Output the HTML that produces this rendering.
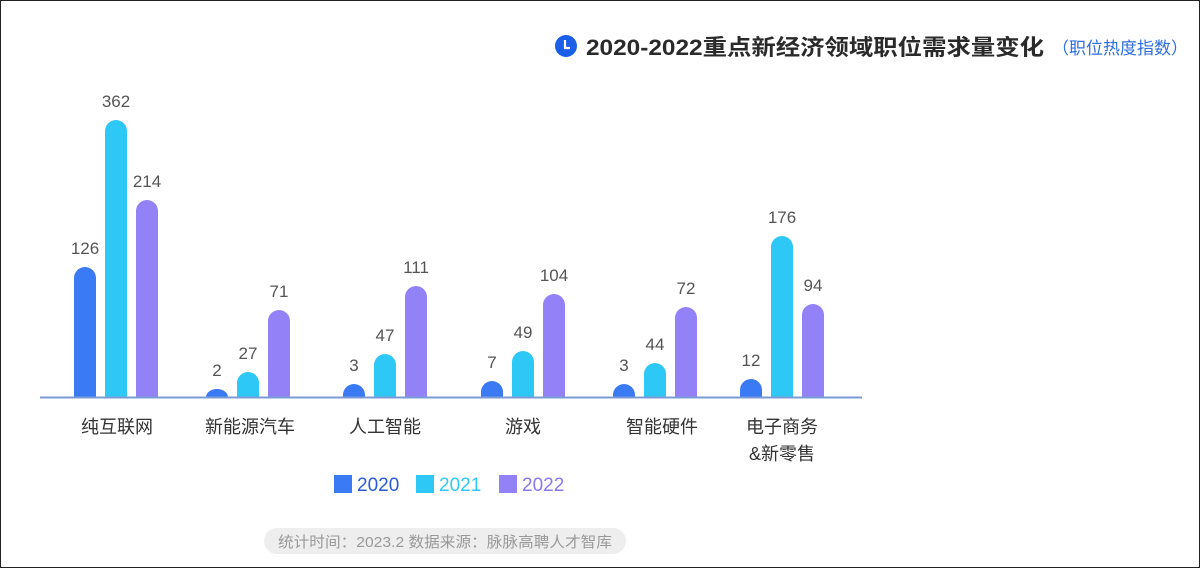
<!DOCTYPE html>
<html><head><meta charset="utf-8"><style>
body{margin:0;width:1200px;height:568px;overflow:hidden;background:#fff;font-family:"Liberation Sans","Noto Sans CJK SC",sans-serif}
</style></head><body>
<svg width="1200" height="568" xmlns="http://www.w3.org/2000/svg" style="display:block">
<rect x="0.5" y="0.5" width="1199" height="567" fill="#fff" stroke="#222" stroke-width="1"/>
<circle cx="566" cy="46" r="11" fill="#1b5fe8"/>
<path d="M565 40 V48 H570" stroke="#fff" stroke-width="2.2" fill="none"/>
<text x="586" y="55" font-size="22" font-weight="bold" fill="#2a2a2a" textLength="458" lengthAdjust="spacingAndGlyphs" font-family="Liberation Sans,Noto Sans CJK SC,sans-serif">2020-2022重点新经济领域职位需求量变化</text>
<text x="1052" y="54" font-size="17" fill="#2f6fe0" textLength="136" lengthAdjust="spacingAndGlyphs" font-family="Noto Sans CJK SC,sans-serif">（职位热度指数）</text>
<g id="bars"></g>
<line x1="40" y1="397.5" x2="862" y2="397.5" stroke="#7b9bd6" stroke-width="2"/>
<g font-size="18" fill="#333" text-anchor="middle" font-family="Liberation Sans,Noto Sans CJK SC,sans-serif">
<text x="117" y="433">纯互联网</text>
<text x="250" y="433">新能源汽车</text>
<text x="385" y="433">人工智能</text>
<text x="523" y="433">游戏</text>
<text x="662" y="433">智能硬件</text>
<text x="782" y="433">电子商务</text>
<text x="782" y="460">&amp;新零售</text>
</g>
<rect x="334" y="475" width="18" height="18" fill="#3a7af5"/>
<text x="357" y="491" font-size="19" fill="#2a5bd8">2020</text>
<rect x="416" y="475" width="18" height="18" fill="#2ec8f7"/>
<text x="439" y="491" font-size="19" fill="#2ec8f7">2021</text>
<rect x="499" y="475" width="18" height="18" fill="#9381f7"/>
<text x="522" y="491" font-size="19" fill="#8a78ee">2022</text>
<rect x="264" y="528" width="362" height="26" rx="13" fill="#eeeeee"/>
<text x="278" y="547" font-size="15" fill="#999" textLength="334" lengthAdjust="spacingAndGlyphs" font-family="Liberation Sans,Noto Sans CJK SC,sans-serif">统计时间：2023.2  数据来源：脉脉高聘人才智库</text>
</svg>
<script>
var starts=[74,206,343,481,613,740];
var tops=[[267,120,200],[389,372,310],[384,354,286],[381,351,294],[384,363,307],[379,236,304]];
var vals=[[126,362,214],[2,27,71],[3,47,111],[7,49,104],[3,44,72],[12,176,94]];
var cols=["#3a7af5","#2ec8f7","#9381f7"];
var g=document.getElementById("bars"),s="";
for(var i=0;i<6;i++)for(var j=0;j<3;j++){
 var x=starts[i]+j*31,t=tops[i][j],w=22,r=11,b=397;
 var h=b-t; var rr=Math.min(r,h);
 s+='<path d="M'+x+' '+b+' V'+(t+rr)+' A'+r+' '+rr+' 0 0 1 '+(x+w)+' '+(t+rr)+' V'+b+' Z" fill="'+cols[j]+'"/>';
 s+='<text x="'+(x+11)+'" y="'+(t-13)+'" font-size="17" fill="#555" text-anchor="middle">'+vals[i][j]+'</text>';
}
g.innerHTML=s;
</script>
</body></html>
